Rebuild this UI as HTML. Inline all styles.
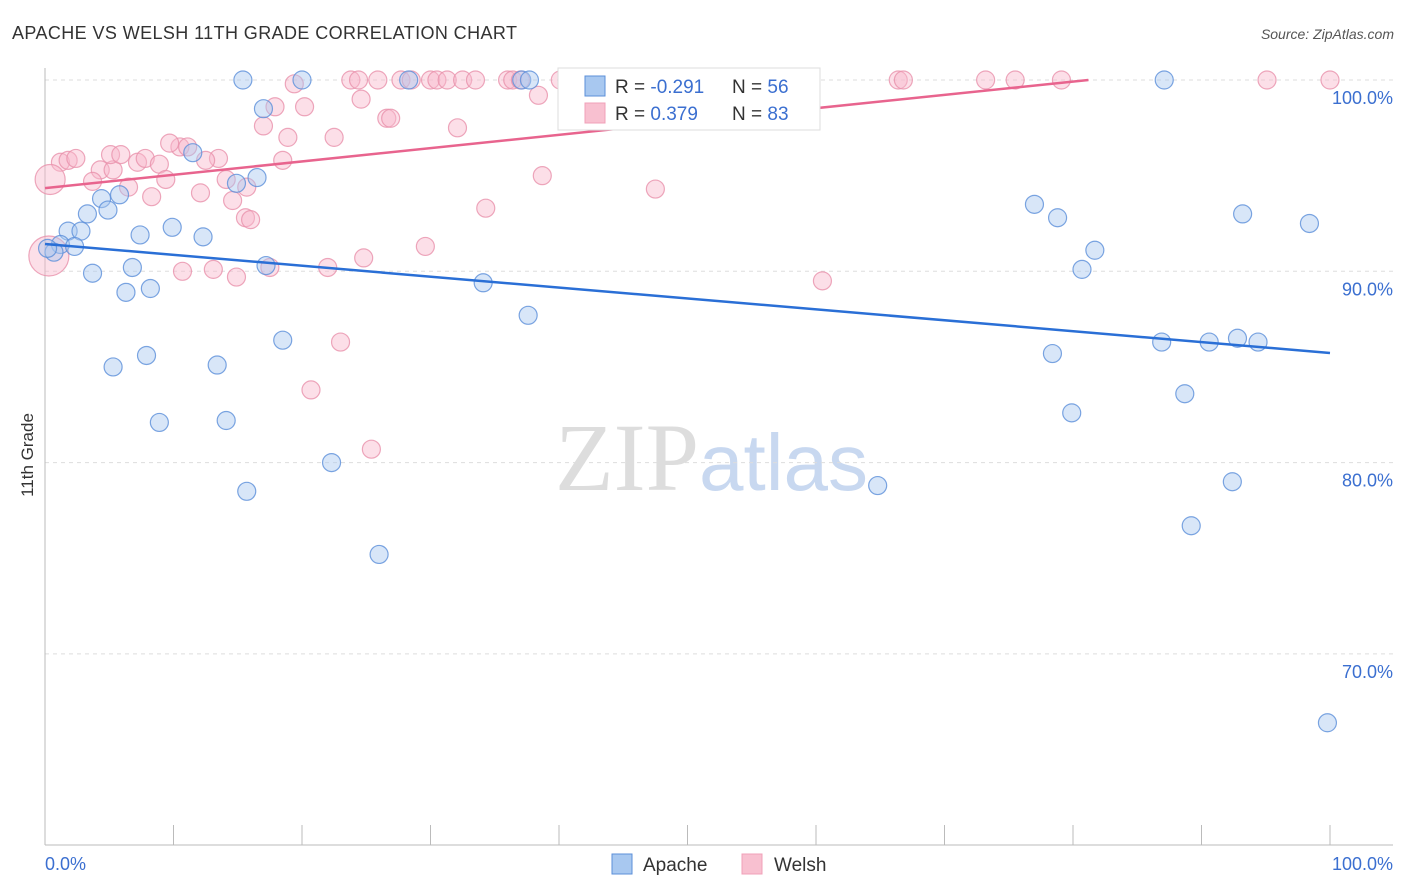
<!DOCTYPE html>
<html><head><meta charset="utf-8"><style>
body{margin:0;background:#fff;font-family:"Liberation Sans",sans-serif}
svg{display:block}
</style></head><body>
<svg id="chart" width="1406" height="892" xmlns="http://www.w3.org/2000/svg">
<text x="12" y="39" font-size="18" letter-spacing="0.4" fill="#333">APACHE VS WELSH 11TH GRADE CORRELATION CHART</text>
<text x="1394" y="39" font-size="14" fill="#555" font-style="italic" text-anchor="end">Source: ZipAtlas.com</text>
<text x="555" y="490" font-family="Liberation Serif" font-size="96" fill="#ddd">ZIP<tspan font-family="Liberation Sans" fill="#c8d8f0" font-size="80">atlas</tspan></text>
<text transform="translate(33,455) rotate(-90)" font-size="17" fill="#333" text-anchor="middle">11th Grade</text>
<g id="grid"></g>
<g id="axes"></g>
<g id="pts"></g>
<g id="lines"></g>
<g>
<rect x="558" y="68" width="262" height="62" fill="#fff" stroke="#ddd"/>
<rect x="585" y="76" width="20" height="20" fill="#a8c8f0" stroke="#5b8fd9"/>
<rect x="585" y="103" width="20" height="20" fill="#f8c0d0" stroke="#f0a0b8"/>
<text x="615" y="93" font-size="19" fill="#333">R = <tspan fill="#3b6fd0">-0.291</tspan></text>
<text x="732" y="93" font-size="19" fill="#333">N = <tspan fill="#3b6fd0">56</tspan></text>
<text x="615" y="120" font-size="19" fill="#333">R = <tspan fill="#3b6fd0"> 0.379</tspan></text>
<text x="732" y="120" font-size="19" fill="#333">N = <tspan fill="#3b6fd0">83</tspan></text>
</g>
<g>
<rect x="612" y="854" width="20" height="20" fill="#a8c8f0" stroke="#5b8fd9"/>
<text x="643" y="871" font-size="19" fill="#333">Apache</text>
<rect x="742" y="854" width="20" height="20" fill="#f8c0d0" stroke="#f0a0b8"/>
<text x="774" y="871" font-size="19" fill="#333">Welsh</text>
</g>
</svg>
<script>
const yTicks=[100,90,80,70];
const yTickLabels=["100.0%","90.0%","80.0%","70.0%"];
const xTickLabels=["0.0%","100.0%"];
const apacheX=[15.4,20.0,28.3,37.1,37.7,87.1,17.0,11.5,14.9,16.5,4.4,5.8,3.3,4.9,1.8,2.8,7.4,9.9,12.3,1.2,2.3,0.7,0.2,3.7,6.8,6.3,8.2,17.2,34.1,37.6,18.5,7.9,5.3,13.4,8.9,14.1,22.3,15.7,26.0,64.8,77.0,78.8,81.7,80.7,93.2,98.4,78.4,86.9,90.6,92.8,94.4,79.9,88.7,92.4,89.2,99.8];
const apacheY=[100,100,100,100,100,100,98.5,96.2,94.6,94.9,93.8,94.0,93.0,93.2,92.1,92.1,91.9,92.3,91.8,91.4,91.3,91.0,91.2,89.9,90.2,88.9,89.1,90.3,89.4,87.7,86.4,85.6,85.0,85.1,82.1,82.2,80.0,78.5,75.2,78.8,93.5,92.8,91.1,90.1,93.0,92.5,85.7,86.3,86.3,86.5,86.3,82.6,83.6,79.0,76.7,66.4];
const welshX=[23.8,24.4,25.9,27.7,28.5,30.0,30.5,31.3,32.5,33.5,36.0,36.4,37.0,40.1,41.2,43.0,43.4,47.5,48.6,66.4,66.8,73.2,75.5,79.1,95.1,100,19.4,24.6,38.4,17.9,20.2,17.0,18.9,22.5,26.6,26.9,32.1,10.5,11.1,9.7,13.5,12.5,18.5,15.7,1.2,1.8,2.4,4.3,5.3,5.1,5.9,7.2,7.8,8.9,9.4,3.7,6.5,8.3,12.1,14.1,14.6,15.6,16.0,38.7,47.5,34.3,29.6,24.8,17.5,22.0,14.9,13.1,10.7,60.5,23.0,20.7,25.4,0.3,0.4];
const welshY=[100,100,100,100,100,100,100,100,100,100,100,100,100,100,100,100,100,100,100,100,100,100,100,100,100,100,99.8,99.0,99.2,98.6,98.6,97.6,97.0,97.0,98.0,98.0,97.5,96.5,96.5,96.7,95.9,95.8,95.8,94.4,95.7,95.8,95.9,95.3,95.3,96.1,96.1,95.7,95.9,95.6,94.8,94.7,94.4,93.9,94.1,94.8,93.7,92.8,92.7,95.0,94.3,93.3,91.3,90.7,90.2,90.2,89.7,90.1,90.0,89.5,86.3,83.8,80.7,90.8,94.8];
const apacheLine=[[0,91.43],[100,85.73]];
const welshLine=[[0,94.35],[81.2,100]];
const NS="http://www.w3.org/2000/svg";
const X0=45,X1=1330,Y100=80,PX10=191.3;
function sx(v){return X0+(X1-X0)*v/100;}
function sy(v){return Y100+(100-v)*PX10/10;}
function mk(tag,attrs,parent){const e=document.createElementNS(NS,tag);for(const k in attrs)e.setAttribute(k,attrs[k]);document.getElementById(parent).appendChild(e);return e;}
yTicks.forEach((t,i)=>{
 const l=mk('line',{x1:45,x2:1393,y1:sy(t),y2:sy(t),stroke:'#ddd','stroke-dasharray':'4,4'},'grid');
 
 
 const tx=mk('text',{x:1393,y:sy(t)+24,'font-size':18,fill:'#3b6fd0','text-anchor':'end'},'grid');
 
 
 tx.textContent=yTickLabels[i];
});
const ax=mk('line',{x1:45,x2:1393,y1:845,y2:845,stroke:'#bbb'},'axes');


const ay=mk('line',{x1:45,x2:45,y1:68,y2:845,stroke:'#bbb'},'axes');


for(let i=0;i<=10;i++){
 const t=mk('line',{x1:sx(i*10),x2:sx(i*10),y1:825,y2:845,stroke:'#bbb'},'axes');
 
 
}
xTickLabels.forEach((s,i)=>{
 const t=mk('text',{x:i?1393:45,y:870,'font-size':18,fill:'#3b6fd0','text-anchor':i?'end':'start'},'axes');
 
 
 t.textContent=s;
});
function pts(xs,ys,fill,stroke,name){
 xs.forEach((v,i)=>{
  let r=9;
  if(xs===welshX&&v<0.5) r=(ys[i]<92)?20:15;
  const c=mk('circle',{cx:sx(v),cy:sy(ys[i]),r:r,fill:fill,'fill-opacity':0.45,stroke:stroke,'stroke-opacity':0.8,'stroke-width':1.2},'pts');
  
  
 });
}
pts(welshX,welshY,'#f8b8cc','#e891ab','welsh-point');
pts(apacheX,apacheY,'#a8c8f0','#5b8fd9','apache-point');
function ln(d,col,name){
 const l=mk('line',{x1:sx(d[0][0]),y1:sy(d[0][1]),x2:sx(d[1][0]),y2:sy(d[1][1]),stroke:col,'stroke-width':2.5},'lines');
 
 
}
ln(apacheLine,'#2a6fd6','apache-trend-line');
ln(welshLine,'#e8648e','welsh-trend-line');
</script>
</body></html>
